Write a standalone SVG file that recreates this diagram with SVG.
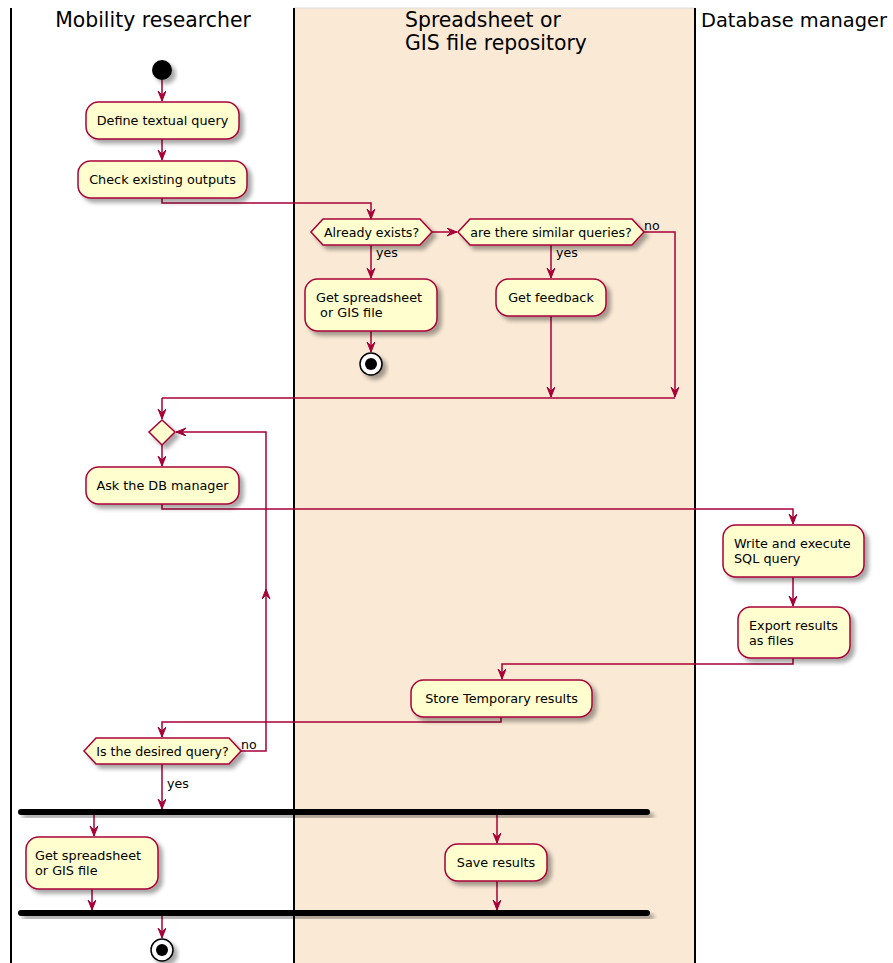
<svg xmlns="http://www.w3.org/2000/svg" width="893" height="963" viewBox="0 0 893 963">
<defs>
<filter id="sh" x="-20%" y="-20%" width="150%" height="170%">
<feGaussianBlur in="SourceAlpha" stdDeviation="2"/>
<feOffset dx="4" dy="4" result="b"/>
<feComponentTransfer><feFuncA type="linear" slope="0.35"/></feComponentTransfer>
<feMerge><feMergeNode/><feMergeNode in="SourceGraphic"/></feMerge>
</filter>
<marker id="ah" markerUnits="userSpaceOnUse" markerWidth="12" markerHeight="10" refX="10" refY="4" orient="auto">
<path d="M0,0 L10,4 L0,8 L4,4 Z" fill="#A80036" stroke="#A80036" stroke-width="1"/>
</marker>
</defs>
<style>
.lane{stroke:#000;stroke-width:2;fill:none}
.hd{font-family:"DejaVu Sans",sans-serif;font-size:20.4px;fill:#000}
.box{fill:#FEFECE;stroke:#A80036;stroke-width:1.5;filter:url(#sh)}
.t{font-family:"DejaVu Sans",sans-serif;font-size:12.8px;fill:#000;white-space:pre}
.d{font-family:"DejaVu Sans",sans-serif;font-size:12.6px;fill:#000}
.c{fill:none;stroke:#A80036;stroke-width:1.5;marker-end:url(#ah)}
.cn{fill:none;stroke:#A80036;stroke-width:1.5}
.bar{fill:#000;filter:url(#sh)}
</style>
<rect x="0" y="0" width="893" height="963" fill="#fff"/>
<rect x="294" y="8" width="401" height="955" fill="#F9E9D5"/>
<line x1="294" y1="8" x2="695" y2="8" stroke="#ddd" stroke-width="1"/>
<g id="lanes">
<line class="lane" x1="11" y1="8" x2="11" y2="963"/>
<line class="lane" x1="294" y1="8" x2="294" y2="963"/>
<line class="lane" x1="695" y1="8" x2="695" y2="963"/>
<text class="hd" x="153" y="27" text-anchor="middle">Mobility researcher</text>
<text class="hd" x="405" y="27">Spreadsheet or</text>
<text class="hd" x="405" y="50">GIS file repository</text>
<text class="hd" x="701" y="27" style="font-size:19.4px" textLength="186" lengthAdjust="spacingAndGlyphs">Database manager</text>
</g>
<g id="connectors">
<path class="c" d="M162,80 V101"/>
<path class="c" d="M162,139 V160"/>
<path class="c" d="M162,198 V203 H371 V219"/>
<path class="c" d="M432,232 H457"/>
<path class="c" d="M371,245 V278"/>
<path class="c" d="M371,331 V352"/>
<path class="c" d="M551,245 V278"/>
<path class="c" d="M551,316 V397"/>
<path class="c" d="M644,232 H675 V397"/>
<path class="cn" d="M162,398 H675"/>
<path class="c" d="M162,398 V419"/>
<path class="c" d="M162,445 V466"/>
<path class="c" d="M162,504 V509 H793 V524"/>
<path class="c" d="M793,577 V606"/>
<path class="c" d="M793,658 V664 H502 V679"/>
<path class="c" d="M501,717 V722 H162 V737"/>
<path class="c" d="M241,751 H266 V589"/>
<path class="c" d="M266,592 V432 H176"/>
<path class="c" d="M162,764 V809"/>
<path class="c" d="M94,815 V836"/>
<path class="c" d="M92,889 V910"/>
<path class="c" d="M497,815 V843"/>
<path class="c" d="M497,881 V910"/>
<path class="c" d="M162,916 V938"/>
<text class="d" x="376" y="257">yes</text>
<text class="d" x="556" y="257">yes</text>
<text class="d" x="644" y="230">no</text>
<text class="d" x="241" y="749">no</text>
<text class="d" x="167" y="788">yes</text>
</g>
<g id="start"><circle cx="162" cy="70" r="10" fill="#000" filter="url(#sh)"/></g>
<g id="define"><rect class="box" x="86" y="102" width="153" height="37" rx="12.5"/><text class="t" x="162.5" y="125" text-anchor="middle">Define textual query</text></g>
<g id="check"><rect class="box" x="78" y="161" width="169" height="37" rx="12.5"/><text class="t" x="162.5" y="184" text-anchor="middle">Check existing outputs</text></g>
<g id="exists"><polygon class="box" points="311,232 323,219 420,219 432,232 420,245 323,245"/><text class="d" x="371.5" y="236.5" text-anchor="middle">Already exists?</text></g>
<g id="similar"><polygon class="box" points="458,232 470,219 632,219 644,232 632,245 470,245"/><text class="d" x="551" y="236.5" text-anchor="middle">are there similar queries?</text></g>
<g id="getfile1"><rect class="box" x="305" y="279" width="132" height="52" rx="12.5"/><text class="t" x="316" y="302">Get spreadsheet</text><text class="t" x="316" y="317"> or GIS file</text></g>
<g id="stop1"><circle cx="371" cy="364" r="11" fill="#fff" stroke="#000" stroke-width="1.5" filter="url(#sh)"/><circle cx="371" cy="364" r="6" fill="#000"/></g>
<g id="feedback"><rect class="box" x="496" y="279" width="110" height="37" rx="12.5"/><text class="t" x="551" y="302" text-anchor="middle">Get feedback</text></g>
<g id="merge"><polygon class="box" points="162,420 175,432 162,445 149,432"/></g>
<g id="ask"><rect class="box" x="86" y="467" width="153" height="37" rx="12.5"/><text class="t" x="162.5" y="490" text-anchor="middle">Ask the DB manager</text></g>
<g id="sql"><rect class="box" x="723" y="525" width="141" height="52" rx="12.5"/><text class="t" x="734" y="548">Write and execute</text><text class="t" x="734" y="563">SQL query</text></g>
<g id="export"><rect class="box" x="738" y="607" width="112" height="51" rx="12.5"/><text class="t" x="749" y="630">Export results</text><text class="t" x="749" y="645">as files</text></g>
<g id="store"><rect class="box" x="411" y="680" width="181" height="37" rx="12.5"/><text class="t" x="501.5" y="703" text-anchor="middle">Store Temporary results</text></g>
<g id="desired"><polygon class="box" points="84,751 96,738 229,738 241,751 229,764 96,764"/><text class="d" x="162.5" y="755.5" text-anchor="middle">Is the desired query?</text></g>
<g id="fork"><rect class="bar" x="18" y="809" width="632" height="6" rx="3"/></g>
<g id="getfile2"><rect class="box" x="26" y="837" width="132" height="52" rx="12.5"/><text class="t" x="35" y="860">Get spreadsheet</text><text class="t" x="35" y="875">or GIS file</text></g>
<g id="save"><rect class="box" x="445" y="844" width="102" height="37" rx="12.5"/><text class="t" x="496" y="867" text-anchor="middle">Save results</text></g>
<g id="join"><rect class="bar" x="18" y="910" width="632" height="6" rx="3"/></g>
<g id="stop2"><circle cx="162" cy="950" r="11" fill="#fff" stroke="#000" stroke-width="1.5" filter="url(#sh)"/><circle cx="162" cy="950" r="6" fill="#000"/></g>
</svg>
